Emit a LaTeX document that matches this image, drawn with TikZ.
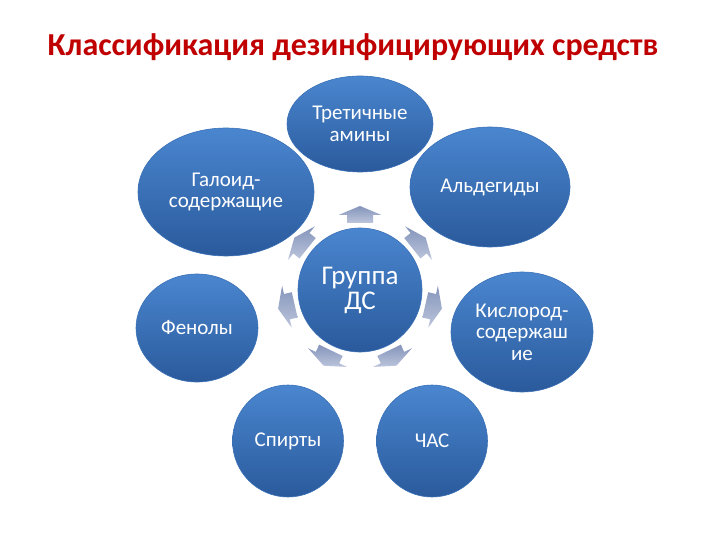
\documentclass[tikz,border=0pt]{standalone}
\usepackage{fontspec}
\setmainfont{Carlito}
\usetikzlibrary{shapes.geometric}
\definecolor{titlered}{HTML}{C00000}
\definecolor{bluetop}{HTML}{4A86CF}
\definecolor{bluebot}{HTML}{2A5A9C}
\definecolor{bluemid}{HTML}{3A70B6}
\definecolor{arrtop}{HTML}{8494BA}
\definecolor{arrbot}{HTML}{BCC5DC}
\tikzset{
  blob/.style={ellipse, inner sep=0pt, align=center, text=white,
    top color=bluetop, bottom color=bluebot, draw=bluemid, line width=0.6pt,
    font=\fontsize{21}{21.5}\selectfont},
  hub/.style={blob, font=\fontsize{27}{25}\selectfont},
  blockarrow/.style={top color=arrtop, bottom color=arrbot, draw=none}
}
\begin{document}
\begin{tikzpicture}[x=1pt,y=-1pt]
\useasboundingbox (0,0) rectangle (720,540);
\fill[white] (0,0) rectangle (720,540);
\node[font=\fontsize{32}{34}\selectfont\bfseries, text=titlered] (title) at (353,47) {Классификация дезинфицирующих средств};
\node[hub, minimum width=124pt, minimum height=124pt] (c) at (360,290) {Группа\\ДС};
\node[blob, minimum width=146pt, minimum height=96pt] (t) at (360,124) {Третичные\\амины};
\node[blob, minimum width=176pt, minimum height=128pt] (g) at (226,192) {Галоид-\\содержащие};
\node[blob, minimum width=160pt, minimum height=120pt] (a) at (490,187) {Альдегиды};
\node[blob, minimum width=142pt, minimum height=120pt] (k) at (522,332) {Кислород-\\содержаш\\ие};
\node[blob, minimum width=111pt, minimum height=112pt] (ch) at (432,441) {ЧАС};
\node[blob, minimum width=111pt, minimum height=112pt] (s) at (288,441) {Спирты};
\node[blob, minimum width=122pt, minimum height=108pt] (f) at (197,328) {Фенолы};
\foreach \k in {0,...,6}{
  \begin{scope}[shift={(c.center)}, rotate=-51.4286*\k]
    \path[blockarrow] (-13,-67) -- (13,-67) -- (13,-75) -- (21.5,-75) -- (0,-84) -- (-21.5,-75) -- (-13,-75) -- cycle;
  \end{scope}
}
\end{tikzpicture}
\end{document}
